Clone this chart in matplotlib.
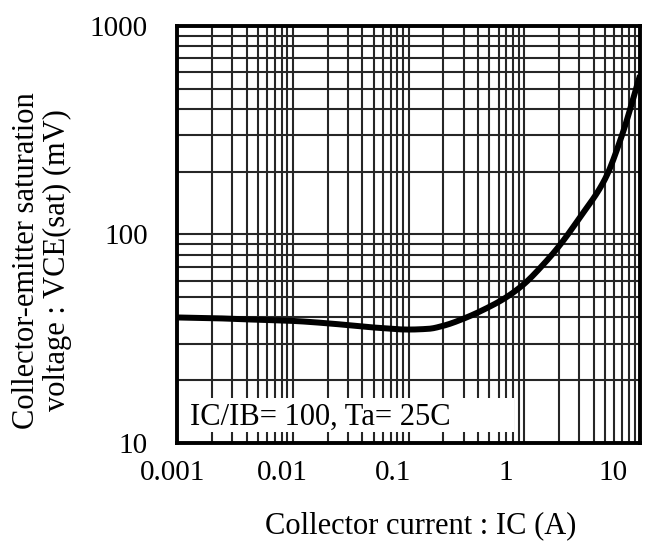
import numpy as np
import matplotlib
matplotlib.use("Agg")
import matplotlib.pyplot as plt
from matplotlib.ticker import LogLocator, FixedLocator, NullFormatter
from matplotlib.transforms import ScaledTranslation
from matplotlib.patches import Rectangle

plt.rcParams['font.family'] = ['Liberation Serif', 'DejaVu Serif']

# Collector current (A) and saturation voltage (mV)
ic_amps = [0.001, 0.002, 0.005, 0.01, 0.02, 0.05, 0.1, 0.15, 0.2, 0.3,
           0.5, 0.7, 1.0, 1.5, 2.0, 3.0, 5.0, 7.0, 10.0]
vce_sat_mv = [40, 39.7, 39, 38.5, 37.5, 35.8, 35, 35.3, 36.5, 39.5,
              45, 50, 58, 73, 88, 120, 185, 300, 580]

x_ticks = [0.001, 0.01, 0.1, 1, 10]
x_tick_labels = ["0.001", "0.01", "0.1", "1", "10"]
y_ticks = [10, 100, 1000]
y_tick_labels = ["10", "100", "1000"]


def pchip(x, y, xs):
    """Shape-preserving cubic interpolation."""
    x = np.asarray(x, float); y = np.asarray(y, float)
    h = np.diff(x); d = np.diff(y) / h
    m = np.zeros_like(y)
    for k in range(1, len(y) - 1):
        if d[k-1] * d[k] <= 0:
            m[k] = 0.0
        else:
            w1 = 2*h[k] + h[k-1]; w2 = h[k] + 2*h[k-1]
            m[k] = (w1 + w2) / (w1/d[k-1] + w2/d[k])
    m[0] = d[0]; m[-1] = d[-1]
    idx = np.clip(np.searchsorted(x, xs) - 1, 0, len(h) - 1)
    t = (xs - x[idx]) / h[idx]
    h00 = 2*t**3 - 3*t**2 + 1; h10 = t**3 - 2*t**2 + t
    h01 = -2*t**3 + 3*t**2; h11 = t**3 - t**2
    return h00*y[idx] + h10*h[idx]*m[idx] + h01*y[idx+1] + h11*h[idx]*m[idx+1]


fig = plt.figure(figsize=(6.67, 5.42), dpi=100)
ax = fig.add_axes([0.2654, 0.1827, 0.6941, 0.7693])

ax.set_xscale('log')
ax.set_yscale('log')
ax.set_xlim(0.001, 10)
ax.set_ylim(10, 1000)

# smooth curve through the points in log-log space
lx = np.log10(ic_amps)
ly = np.log10(vce_sat_mv)
fine_x = np.linspace(lx[0], lx[-1], 400)
fine_y = pchip(lx, ly, fine_x)
ax.plot(10**fine_x, 10**fine_y, color='black', lw=4.3, solid_capstyle='butt', zorder=4)

ax.xaxis.set_major_locator(FixedLocator(x_ticks))
ax.yaxis.set_major_locator(FixedLocator(y_ticks))
ax.xaxis.set_minor_locator(LogLocator(base=10, subs=np.arange(2, 10)))
ax.yaxis.set_minor_locator(LogLocator(base=10, subs=np.arange(2, 10)))
ax.xaxis.set_minor_formatter(NullFormatter())
ax.yaxis.set_minor_formatter(NullFormatter())
ax.set_xticklabels(x_tick_labels)
ax.set_yticklabels(y_tick_labels)

ax.grid(True, which='both', color='#262626', lw=1.5, zorder=1)
ax.tick_params(which='both', length=0, labelsize=21)
ax.tick_params(axis='x', pad=12)
ax.tick_params(axis='y', pad=21)
for s in ax.spines.values():
    s.set_linewidth(2.8)
    s.set_zorder(5)

# small horizontal nudges of the x tick labels (pixels)
x_label_shift = [-4, -10, -15, -18, -27]
for lab, dx in zip(ax.get_xticklabels(), x_label_shift):
    lab.set_transform(lab.get_transform() + ScaledTranslation(dx / 100, 0, fig.dpi_scale_trans))

# white panel behind the condition note
ax.add_patch(Rectangle((0.017, 0.026), 0.71, 0.082, transform=ax.transAxes,
                       facecolor='white', edgecolor='none', zorder=2))
ax.text(0.028, 0.043, "IC/IB= 100, Ta= 25C", transform=ax.transAxes,
        fontsize=22, ha='left', va='baseline', zorder=3)

fig.text(0.63, 0.0166, "Collector current : IC (A)", fontsize=22,
         ha='center', va='baseline')
fig.text(0.063, 0.52, "Collector-emitter saturation\nvoltage : VCE(sat) (mV)",
         fontsize=22, ha='center', va='center', rotation=90, linespacing=1.1)

fig.savefig("out.png", dpi=100)
